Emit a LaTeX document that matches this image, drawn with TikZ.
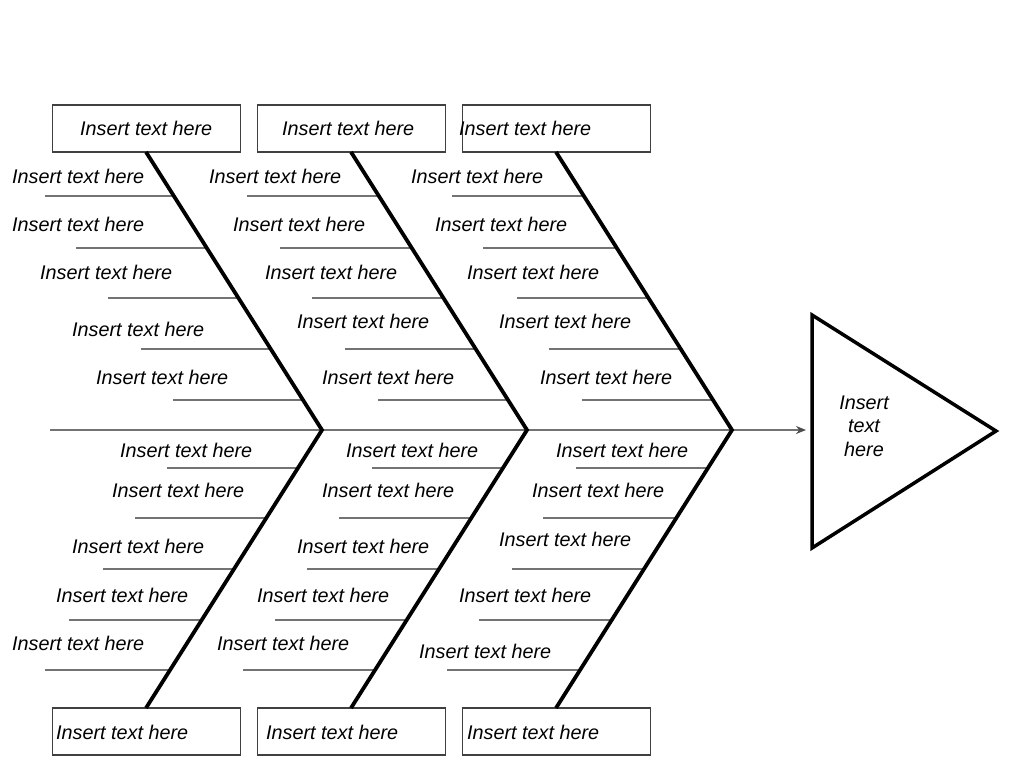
\documentclass[tikz,border=0pt]{standalone}
\usepackage{fontspec}
\setmainfont{Liberation Sans}
\usetikzlibrary{arrows.meta,calc}
\begin{document}
\begin{tikzpicture}[x=1pt,y=-1pt,
  lbl/.style={anchor=base west,inner sep=0pt,font=\fontsize{19.8}{23.5}\selectfont\itshape},
  box/.style={draw=black!75,line width=1.3pt,minimum width=188pt,minimum height=47pt,inner sep=0pt},
  bone/.style={line width=3.8pt,black,line join=miter},
  rib/.style={line width=2.5pt,black!55},
  spine/.style={line width=2.5pt,black!55},
  tri/.style={line width=3.5pt,black,line join=miter}]
\useasboundingbox (0,0) rectangle (1024,768);
% spine
\coordinate (s0) at (50,430);
\coordinate (aend) at (806,430);
\coordinate (j1) at (322,430);
\coordinate (j2) at (527,430);
\coordinate (j3) at (732,430);
\draw[spine,-{Stealth[length=10pt,width=8pt,color=black!70]}] (s0) -- (aend);
% boxes
\node[box] (t1) at (146.5,128.5) {};
\node[box] (t2) at (351.5,128.5) {};
\node[box] (t3) at (556.5,128.5) {};
\node[box] (b1) at (146.5,731.5) {};
\node[box] (b2) at (351.5,731.5) {};
\node[box] (b3) at (556.5,731.5) {};
\node[lbl] (tt1) at (80,135) {Insert text here};
\node[lbl] (tt2) at (282,135) {Insert text here};
\node[lbl] (tt3) at (459,135) {Insert text here};
\node[lbl] (bt1) at (56,739) {Insert text here};
\node[lbl] (bt2) at (266,739) {Insert text here};
\node[lbl] (bt3) at (467,739) {Insert text here};
% ribs top
\foreach \s/\y in {45/196,76/248,108/298,141/349,173/400}
  \draw[rib] (\s,\y) -- ({146+(\y-152)*0.6331},\y);
\foreach \s/\y in {247/196,280/248,312/298,345/349,378/400}
  \draw[rib] (\s,\y) -- ({351+(\y-152)*0.6331},\y);
\foreach \s/\y in {452/196,483/248,517/298,549/349,582/400}
  \draw[rib] (\s,\y) -- ({556+(\y-152)*0.6331},\y);
% ribs bottom
\foreach \s/\y in {167/468,135/518,103/569,69/620,45/670}
  \draw[rib] (\s,\y) -- ({146+(708-\y)*0.6331},\y);
\foreach \s/\y in {372/468,339/518,307/569,275/620,243/670}
  \draw[rib] (\s,\y) -- ({351+(708-\y)*0.6331},\y);
\foreach \s/\y in {576/468,543/518,512/569,479/620,447/670}
  \draw[rib] (\s,\y) -- ({556+(708-\y)*0.6331},\y);
% bones
\draw[bone] (146,152) -- (j1) -- (146,708);
\draw[bone] (351,152) -- (j2) -- (351,708);
\draw[bone] (556,152) -- (j3) -- (556,708);
% labels
\foreach \x/\y [count=\i] in {12/176,12/224,40/272,72/329,96/377,120/450,112/490,72/546,56/595,12/643,
  209/176,233/224,265/272,297/321,322/377,346/450,322/490,297/546,257/595,217/643,
  411/176,435/224,467/272,499/321,540/377,556/450,532/490,499/539,459/595,419/651}
  \node[lbl] (L\i) at (\x,{\y+7}) {Insert text here};
% head
\draw[tri] (812,315) -- (996,431) -- (812,548) -- cycle;
\node[align=center,inner sep=0pt,font=\fontsize{19.8}{23.5}\selectfont\itshape] (head) at (864,426) {Insert\\text\\here};
\end{tikzpicture}
\end{document}
